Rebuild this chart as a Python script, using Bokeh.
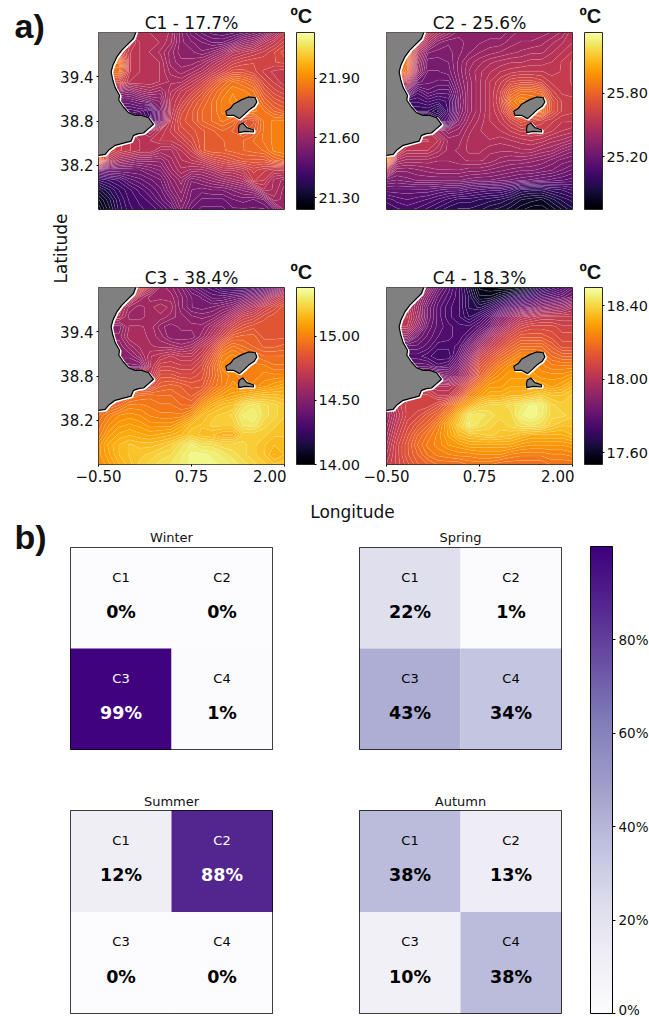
import numpy as np
from bokeh.core.properties import value
from bokeh.embed import file_html
from bokeh.layouts import column, row
from bokeh.models import ColorBar, ColumnDataSource, FixedTicker, Label, LinearColorMapper, PrintfTickFormatter, Spacer
from bokeh.palettes import Inferno256, Purples256
from bokeh.plotting import figure
from bokeh.resources import INLINE

FONT = "DejaVu Sans"
ARIAL = "Liberation Sans"

# Colour-bar limits (deg C)
c1_limits = (21.24, 22.13)
c2_limits = (24.70, 26.375)
c3_limits = (14.00, 15.38)
c4_limits = (17.536, 18.50)
c1_ticks = [21.30, 21.60, 21.90]
c2_ticks = [25.20, 25.80]
c3_ticks = [14.00, 14.50, 15.00]
c4_ticks = [17.60, 18.00, 18.40]

# SST fields read from the picture as % of the colour-bar height,
# rows from 40.0N (top) to 37.6N, columns from 0.5W to 2.0E
c1_field = [
    [50, 50, 50, 50, 50, 48, 48, 46, 38, 33, 30, 28, 27, 28, 30, 33, 36, 44, 52],
    [55, 55, 55, 55, 50, 50, 48, 45, 38, 36, 34, 32, 32, 35, 40, 42, 48, 52, 56],
    [62, 62, 62, 52, 50, 48, 46, 42, 38, 38, 36, 38, 42, 48, 50, 52, 54, 57, 60],
    [72, 72, 72, 52, 50, 50, 48, 42, 40, 40, 42, 46, 50, 54, 56, 57, 57, 57, 58],
    [68, 68, 68, 52, 50, 50, 48, 44, 42, 44, 47, 52, 56, 60, 60, 58, 55, 53, 52],
    [58, 58, 58, 50, 50, 50, 48, 46, 46, 50, 54, 60, 66, 70, 68, 65, 58, 55, 52],
    [40, 40, 40, 38, 42, 44, 42, 48, 52, 55, 60, 66, 70, 73, 72, 70, 62, 58, 56],
    [30, 30, 30, 30, 32, 35, 38, 50, 54, 60, 64, 68, 72, 74, 72, 72, 66, 62, 60],
    [24, 24, 24, 24, 25, 20, 35, 50, 58, 62, 66, 68, 72, 72, 72, 72, 70, 66, 64],
    [28, 28, 28, 28, 28, 22, 35, 52, 60, 62, 66, 68, 70, 68, 60, 62, 70, 72, 72],
    [50, 50, 50, 50, 48, 45, 50, 54, 58, 60, 62, 64, 66, 64, 62, 64, 70, 72, 72],
    [55, 55, 54, 52, 50, 50, 52, 52, 54, 58, 62, 64, 64, 66, 66, 68, 70, 72, 72],
    [62, 58, 54, 52, 50, 50, 46, 46, 50, 54, 62, 64, 64, 65, 66, 67, 68, 72, 73],
    [72, 50, 44, 42, 40, 40, 40, 44, 48, 50, 52, 56, 58, 60, 62, 62, 62, 66, 68],
    [30, 32, 32, 32, 32, 34, 36, 42, 46, 44, 44, 46, 50, 50, 52, 56, 54, 52, 52],
    [18, 20, 22, 26, 28, 30, 32, 38, 42, 36, 38, 40, 42, 44, 46, 54, 52, 46, 44],
    [10, 14, 18, 21, 24, 27, 30, 36, 40, 34, 33, 34, 34, 36, 38, 40, 48, 46, 42],
    [5, 10, 16, 20, 22, 24, 28, 32, 38, 33, 30, 30, 30, 32, 33, 32, 34, 44, 42],
    [2, 8, 15, 19, 21, 22, 24, 28, 36, 30, 28, 28, 28, 30, 30, 30, 30, 34, 42],
]
c2_field = [
    [52, 52, 52, 52, 52, 46, 42, 38, 38, 38, 38, 38, 40, 42, 42, 42, 43, 45, 50],
    [58, 58, 58, 58, 45, 38, 36, 37, 38, 39, 40, 40, 42, 43, 43, 44, 46, 48, 50],
    [70, 70, 70, 48, 36, 35, 35, 37, 39, 41, 42, 43, 44, 45, 46, 46, 48, 50, 52],
    [75, 75, 70, 44, 33, 33, 34, 38, 42, 44, 46, 47, 48, 48, 49, 49, 50, 52, 54],
    [75, 75, 66, 42, 32, 32, 33, 38, 43, 46, 48, 50, 51, 52, 52, 52, 51, 52, 54],
    [50, 50, 50, 33, 31, 30, 30, 37, 42, 46, 50, 53, 57, 58, 58, 56, 53, 52, 54],
    [35, 35, 35, 24, 28, 26, 26, 35, 42, 46, 50, 55, 64, 68, 68, 66, 56, 53, 53],
    [20, 20, 20, 20, 22, 20, 22, 34, 42, 46, 50, 56, 70, 74, 72, 72, 60, 55, 54],
    [16, 16, 16, 16, 16, 12, 22, 35, 42, 46, 50, 54, 64, 70, 70, 70, 60, 55, 54],
    [30, 30, 30, 30, 30, 20, 26, 38, 44, 47, 50, 52, 56, 60, 58, 56, 54, 52, 52],
    [50, 50, 50, 50, 50, 44, 40, 42, 46, 48, 50, 50, 52, 54, 54, 54, 52, 50, 49],
    [62, 62, 54, 52, 52, 50, 44, 44, 47, 48, 48, 47, 48, 49, 50, 49, 47, 46, 44],
    [72, 56, 50, 50, 50, 47, 44, 45, 47, 47, 45, 45, 45, 46, 46, 44, 43, 40, 38],
    [78, 46, 44, 44, 44, 43, 43, 44, 45, 45, 44, 42, 41, 41, 40, 39, 37, 35, 34],
    [50, 38, 38, 39, 40, 41, 41, 41, 40, 40, 39, 38, 37, 36, 36, 35, 34, 32, 30],
    [35, 34, 35, 36, 36, 36, 36, 36, 35, 34, 34, 33, 32, 31, 30, 29, 28, 27, 26],
    [28, 28, 28, 28, 28, 27, 26, 26, 24, 23, 22, 22, 20, 16, 15, 15, 17, 18, 20],
    [22, 24, 25, 24, 23, 21, 19, 17, 17, 16, 15, 14, 12, 9, 8, 7, 10, 13, 15],
    [20, 21, 22, 21, 19, 17, 15, 14, 14, 13, 11, 10, 8, 6, 4, 4, 6, 9, 12],
]
c3_field = [
    [60, 60, 60, 60, 60, 50, 42, 40, 36, 30, 26, 24, 20, 20, 20, 22, 26, 32, 40],
    [55, 55, 55, 55, 46, 42, 42, 42, 38, 34, 32, 28, 28, 30, 32, 36, 40, 48, 54],
    [50, 50, 50, 44, 42, 44, 46, 44, 38, 34, 33, 34, 36, 38, 44, 48, 54, 58, 62],
    [48, 48, 48, 42, 42, 44, 44, 42, 40, 38, 37, 38, 42, 48, 54, 56, 60, 62, 62],
    [38, 38, 38, 45, 45, 44, 40, 38, 40, 40, 40, 44, 50, 56, 60, 62, 62, 62, 62],
    [40, 40, 40, 46, 46, 44, 42, 38, 38, 38, 42, 48, 56, 64, 65, 65, 62, 62, 62],
    [38, 38, 38, 42, 45, 45, 44, 44, 42, 44, 50, 56, 66, 70, 68, 66, 64, 64, 65],
    [38, 38, 38, 38, 42, 48, 50, 52, 50, 50, 54, 62, 72, 74, 72, 70, 68, 68, 68],
    [35, 35, 35, 35, 35, 48, 55, 55, 54, 54, 58, 66, 74, 74, 72, 72, 72, 70, 70],
    [50, 50, 50, 50, 50, 50, 60, 60, 58, 58, 60, 66, 72, 74, 72, 72, 74, 74, 74],
    [58, 58, 58, 58, 58, 58, 64, 65, 64, 62, 62, 68, 72, 76, 74, 74, 76, 78, 80],
    [62, 62, 62, 66, 68, 69, 68, 68, 66, 64, 68, 74, 78, 80, 82, 84, 85, 85, 84],
    [62, 66, 68, 72, 72, 71, 70, 70, 68, 68, 76, 82, 85, 86, 92, 94, 92, 90, 88],
    [68, 72, 75, 76, 75, 73, 72, 72, 72, 76, 84, 87, 88, 90, 95, 96, 92, 90, 88],
    [70, 75, 78, 79, 78, 76, 76, 76, 80, 85, 86, 88, 88, 88, 93, 94, 90, 88, 86],
    [72, 78, 81, 82, 81, 80, 81, 82, 84, 87, 85, 84, 82, 82, 88, 88, 88, 86, 86],
    [76, 81, 84, 86, 85, 85, 86, 88, 92, 95, 92, 92, 90, 90, 90, 88, 86, 84, 84],
    [76, 80, 84, 86, 87, 88, 90, 91, 94, 97, 97, 96, 94, 92, 90, 88, 86, 82, 84],
    [75, 78, 82, 85, 88, 90, 92, 93, 95, 97, 98, 97, 96, 94, 92, 90, 88, 86, 87],
]
c4_field = [
    [42, 42, 42, 42, 42, 32, 26, 20, 12, 3, 2, 1, 1, 3, 8, 14, 18, 22, 28],
    [45, 45, 45, 45, 36, 28, 24, 20, 14, 6, 6, 10, 14, 18, 22, 26, 28, 30, 33],
    [50, 50, 50, 42, 32, 26, 22, 20, 14, 12, 16, 22, 28, 32, 34, 38, 40, 42, 46],
    [52, 52, 52, 44, 32, 26, 22, 20, 16, 20, 26, 36, 42, 48, 50, 52, 52, 52, 52],
    [50, 50, 50, 40, 30, 26, 24, 22, 22, 26, 32, 42, 50, 56, 58, 58, 58, 56, 56],
    [40, 40, 40, 32, 28, 25, 24, 22, 26, 34, 44, 52, 58, 62, 62, 62, 60, 58, 58],
    [28, 28, 28, 28, 26, 22, 22, 24, 34, 44, 52, 58, 64, 68, 68, 68, 64, 60, 60],
    [24, 24, 24, 24, 22, 20, 20, 28, 40, 54, 60, 66, 70, 74, 74, 72, 68, 66, 66],
    [28, 28, 28, 28, 28, 24, 26, 34, 46, 60, 66, 72, 76, 76, 76, 74, 72, 72, 72],
    [38, 38, 38, 38, 38, 38, 34, 40, 50, 64, 72, 76, 78, 78, 78, 76, 76, 76, 78],
    [50, 50, 50, 50, 50, 48, 48, 52, 62, 72, 78, 78, 80, 80, 80, 80, 78, 80, 84],
    [55, 55, 55, 56, 56, 52, 52, 60, 72, 78, 82, 82, 84, 84, 86, 88, 86, 86, 88],
    [45, 52, 56, 56, 56, 60, 66, 74, 82, 88, 90, 90, 92, 94, 97, 96, 90, 88, 88],
    [42, 50, 56, 58, 62, 66, 74, 84, 94, 94, 92, 90, 90, 96, 98, 95, 90, 90, 88],
    [44, 52, 58, 62, 66, 72, 80, 88, 95, 92, 90, 88, 90, 92, 93, 92, 88, 86, 86],
    [46, 54, 60, 66, 70, 74, 79, 84, 86, 87, 88, 87, 86, 84, 82, 82, 82, 82, 84],
    [48, 56, 62, 68, 72, 74, 77, 78, 80, 80, 80, 80, 80, 78, 77, 77, 77, 77, 78],
    [50, 56, 62, 66, 70, 72, 73, 74, 74, 75, 75, 75, 73, 72, 72, 72, 73, 73, 74],
    [52, 56, 60, 64, 66, 68, 68, 68, 70, 70, 70, 68, 68, 68, 68, 68, 70, 70, 70],
]

titles_a = ["C1 - 17.7%", "C2 - 25.6%", "C3 - 38.4%", "C4 - 18.3%"]

# Coastlines (lon, lat)
main_lon = [0.038, -0.030, -0.119, -0.186, -0.254, -0.307, -0.330, -0.307, -0.276, -0.218, -0.227, -0.164, -0.097,
            -0.007, 0.082, 0.172, 0.239, 0.172, 0.105, 0.038, -0.030, -0.061, -0.164, -0.276, -0.366, -0.410, -0.496,
            -0.6, -0.6, 0.038]
main_lat = [40.1, 39.918, 39.828, 39.76, 39.669, 39.556, 39.466, 39.352, 39.253, 39.149, 39.081, 38.99, 38.913,
            38.877, 38.877, 38.845, 38.755, 38.696, 38.637, 38.628, 38.605, 38.528, 38.501, 38.47, 38.402, 38.347, 38.334,
            38.334, 40.1, 40.1]
ibiza_lon = [1.27, 1.314, 1.426, 1.516, 1.606, 1.628, 1.592, 1.516, 1.471, 1.395, 1.314, 1.225, 1.211]
ibiza_lat = [38.968, 39.026, 39.09, 39.126, 39.117, 39.058, 38.999, 38.945, 38.9, 38.832, 38.877, 38.877, 38.931]
form_lon = [1.391, 1.44, 1.494, 1.583, 1.583, 1.471, 1.386, 1.382]
form_lat = [38.741, 38.773, 38.71, 38.682, 38.651, 38.66, 38.642, 38.696]

# Seasonal occupation (%): C1, C2, C3, C4
seasons = ["Winter", "Spring", "Summer", "Autumn"]
cluster_names = ["C1", "C2", "C3", "C4"]
winter = [0, 0, 99, 1]
spring = [22, 1, 43, 34]
summer = [12, 88, 0, 0]
autumn = [38, 13, 10, 38]
percent_ticks = [0, 20, 40, 60, 80]

lon_grid = np.linspace(-0.5, 2.0, 19)
lat_grid = np.linspace(37.6, 40.0, 19)
N_LEVELS = 56
INK = "#2a2a2a"


def map_panel(field, limits, width, height, left, right, top, bottom, show_y, show_x):
    low, high = limits
    p = figure(width=width, height=height, x_range=(-0.5, 2.0), y_range=(37.6, 40.0),
               output_backend="svg", toolbar_location=None,
               min_border_left=left, min_border_right=right, min_border_top=top, min_border_bottom=bottom,
               background_fill_color="white", border_fill_color=None)
    p.grid.visible = False
    p.outline_line_color = INK
    p.outline_line_width = 1

    z = low + np.array(field, dtype=float)[::-1] / 100.0 * (high - low)
    levels = np.linspace(low, high, N_LEVELS + 1)
    idx = ((np.arange(N_LEVELS) + 0.5) / N_LEVELS * 255).astype(int)
    p.contour(lon_grid, lat_grid, z, levels, fill_color=[Inferno256[i] for i in idx],
              line_color="white", line_alpha=0.2, line_width=0.6)

    lons = [main_lon, ibiza_lon, form_lon]
    lats = [main_lat, ibiza_lat, form_lat]
    p.patches([[v + 0.014 for v in a] for a in lons], [[v - 0.012 for v in a] for a in lats],
              fill_color=None, line_color="white", line_width=2.2)
    p.patches(lons, lats, fill_color="#808080", line_color="black", line_width=1.2)

    p.xaxis.visible = show_x
    p.yaxis.visible = show_y
    p.xaxis.ticker = FixedTicker(ticks=[-0.5, 0.75, 2.0])
    p.xaxis.major_label_overrides = {-0.5: "\u22120.50", 0.75: "0.75", 2.0: "2.00"}
    p.yaxis.ticker = FixedTicker(ticks=[38.2, 38.8, 39.4])
    p.yaxis.formatter = PrintfTickFormatter(format="%.1f")
    for ax in (p.xaxis[0], p.yaxis[0]):
        ax.axis_line_color = None
        ax.major_tick_line_color = "black"
        ax.major_tick_in = 0
        ax.major_tick_out = 2
        ax.minor_tick_line_color = None
        ax.major_label_text_font = FONT
        ax.major_label_text_font_size = "15px"
        ax.major_label_text_color = "#111111"
        ax.major_label_standoff = 3
    return p


def bar_panel(limits, ticks, width, height, top, bottom):
    low, high = limits
    b = figure(width=width, height=height, x_range=(0, 1), y_range=(0, 1), output_backend="svg",
               toolbar_location=None, min_border_left=0, min_border_right=0, min_border_top=top,
               min_border_bottom=bottom, x_axis_location=None, y_axis_location=None,
               outline_line_color=None, border_fill_color=None)
    b.grid.visible = False
    mapper = LinearColorMapper(palette=Inferno256, low=low, high=high)
    b.add_layout(ColorBar(color_mapper=mapper, ticker=FixedTicker(ticks=ticks),
                          formatter=PrintfTickFormatter(format="%.2f"),
                          width=18, height=177, padding=0, location=(10, 0),
                          major_tick_in=0, major_tick_out=2, major_tick_line_color="black",
                          minor_tick_line_color=None, label_standoff=2, bar_line_color=INK,
                          major_label_text_font=FONT, major_label_text_font_size="14.5px",
                          major_label_text_color="#111111", background_fill_color=None), "center")
    return b


# Map row geometry (reference pixels)
p1 = map_panel(c1_field, c1_limits, 286, 210, 98, 2, 32, 1, True, False)
b1 = bar_panel(c1_limits, c1_ticks, 76, 210, 32, 1)
p2 = map_panel(c2_field, c2_limits, 212, 210, 24, 2, 32, 1, False, False)
b2 = bar_panel(c2_limits, c2_ticks, 75, 210, 32, 1)
p3 = map_panel(c3_field, c3_limits, 286, 287, 98, 2, 77, 33, True, True)
b3 = bar_panel(c3_limits, c3_ticks, 76, 287, 77, 33)
p4 = map_panel(c4_field, c4_limits, 212, 287, 24, 2, 77, 33, False, True)
b4 = bar_panel(c4_limits, c4_ticks, 75, 287, 77, 33)

purples = LinearColorMapper(palette=Purples256[::-1], low=0, high=100)


def season_panel(vals, width, height, left, right, top, bottom):
    p = figure(width=width, height=height, x_range=(0, 2), y_range=(0, 2), output_backend="svg",
               toolbar_location=None, min_border_left=left, min_border_right=right, min_border_top=top,
               min_border_bottom=bottom, x_axis_location=None, y_axis_location=None, border_fill_color=None)
    p.grid.visible = False
    p.outline_line_color = "black"
    p.outline_line_width = 1
    src = ColumnDataSource(dict(
        x=[0.5, 1.5, 0.5, 1.5], y=[1.5, 1.5, 0.5, 0.5], v=vals, name=cluster_names,
        pct=[f"{v}%" for v in vals], ink=["white" if v > 60 else "black" for v in vals]))
    p.rect("x", "y", 1, 1, source=src, line_color=None,
           fill_color={"field": "v", "transform": purples})
    p.text("x", "y", text="name", source=src, text_color="ink", text_align="center", text_baseline="middle",
           y_offset=-21, text_font=value(FONT), text_font_size=value("13px"))
    p.text("x", "y", text="pct", source=src, text_color="ink", text_align="center", text_baseline="middle",
           y_offset=14, text_font=value(FONT), text_font_style="bold", text_font_size=value("17.5px"))
    return p


w = season_panel(winter, 315, 259, 70, 43, 26, 31)
s = season_panel(spring, 257, 259, 44, 11, 26, 31)
u = season_panel(summer, 315, 237, 70, 43, 30, 4)
a = season_panel(autumn, 257, 237, 44, 11, 30, 4)

bar = figure(width=77, height=496, x_range=(0, 1), y_range=(0, 1), output_backend="svg", toolbar_location=None,
             min_border=0, x_axis_location=None, y_axis_location=None, outline_line_color=None)
bar.grid.visible = False
bar.add_layout(ColorBar(color_mapper=purples, ticker=FixedTicker(ticks=percent_ticks),
                        formatter=PrintfTickFormatter(format="%d%%"), width=22, height=467, padding=0,
                        location=(18, 4), major_tick_in=0, major_tick_out=3, major_tick_line_color="black",
                        minor_tick_line_color=None, label_standoff=3, bar_line_color="black",
                        major_label_text_font=FONT, major_label_text_font_size="13.5px",
                        major_label_text_color="#111111", background_fill_color=None), "center")

# Transparent text layer over the whole page, in page pixels
overlay = figure(width=649, height=1017, x_range=(0, 649), y_range=(1017, 0), output_backend="svg",
                 toolbar_location=None, min_border=0, x_axis_location=None, y_axis_location=None,
                 outline_line_color=None, background_fill_color=None, border_fill_color=None,
                 styles={"position": "absolute", "left": "0px", "top": "0px"})
overlay.grid.visible = False
TXT = "#111111"


def put(x, y, text, font=FONT, size="17px", style="normal", align="left", angle=0.0):
    overlay.add_layout(Label(x=x, y=y, text=text, text_font=font, text_font_size=size, text_font_style=style,
                             text_align=align, text_baseline="middle", angle=angle, text_color=TXT))


put(14, 25, "a)", ARIAL, "34px", "bold")
put(14, 536, "b)", ARIAL, "34px", "bold")
put(191, 22, titles_a[0], align="center")
put(479, 22, titles_a[1], align="center")
put(191, 277, titles_a[2], align="center")
put(479, 277, titles_a[3], align="center")
put(290, 15, "\u00baC", ARIAL, "20px", "bold")
put(579, 15, "\u00baC", ARIAL, "20px", "bold")
put(290, 271, "\u00baC", ARIAL, "20px", "bold")
put(579, 271, "\u00baC", ARIAL, "20px", "bold")
put(60, 248, "Latitude", align="center", angle=np.pi / 2)
put(352, 511, "Longitude", align="center")
put(171, 537, seasons[0], size="13px", align="center")
put(460, 537, seasons[1], size="13px", align="center")
put(171, 801, seasons[2], size="13px", align="center")
put(460, 801, seasons[3], size="13px", align="center")

root = column(
    row(p1, b1, p2, b2),
    row(p3, b3, p4, b4),
    Spacer(width=649, height=24),
    row(column(row(w, s), row(u, a)), bar),
    overlay,
)
open("out.html", "w").write(file_html(root, INLINE))
